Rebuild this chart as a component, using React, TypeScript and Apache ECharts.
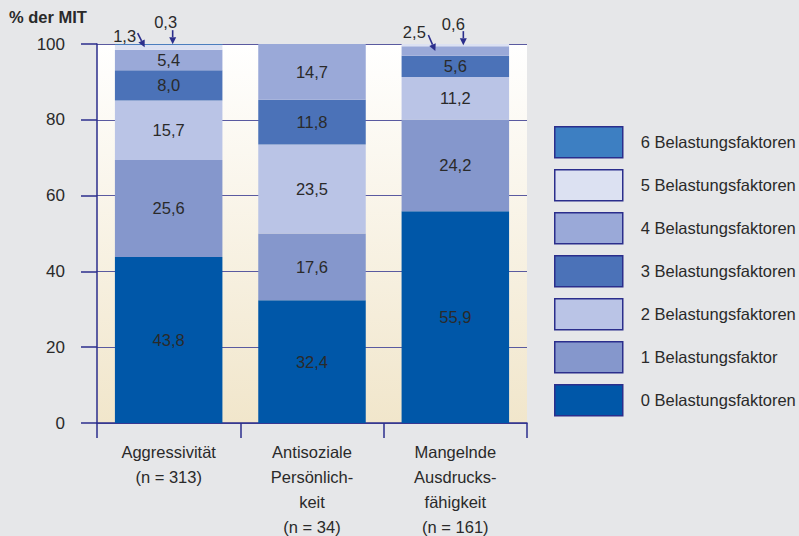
import React, { useEffect, useRef } from "react";
import * as echarts from "echarts";

const categories = [
  "Aggressivität\n(n = 313)",
  "Antisoziale\nPersönlich-\nkeit\n(n = 34)",
  "Mangelnde\nAusdrucks-\nfähigkeit\n(n = 161)",
];

const seriesNames = [
  "0 Belastungsfaktoren",
  "1 Belastungsfaktor",
  "2 Belastungsfaktoren",
  "3 Belastungsfaktoren",
  "4 Belastungsfaktoren",
  "5 Belastungsfaktoren",
  "6 Belastungsfaktoren",
];

const factors0 = [43.8, 32.4, 55.9];
const factors1 = [25.6, 17.6, 24.2];
const factors2 = [15.7, 23.5, 11.2];
const factors3 = [8.0, 11.8, 5.6];
const factors4 = [5.4, 14.7, 2.5];
const factors5 = [1.3, 0, 0.6];
const factors6 = [0.3, 0, 0];

const seriesValues = [factors0, factors1, factors2, factors3, factors4, factors5, factors6];

const seriesColors = ["#0057a8", "#8597cc", "#bac4e6", "#4b72b8", "#9aa9d8", "#dce1f2", "#3d7fc2"];

// thin segments labelled above the bar with an arrow:
// [series, category, tip offset from bar centre (px), arrow dx, arrow dy, label dx, label dy (from tip)]
const calloutSegments: [number, number, number, number, number, number, number][] = [
  [5, 0, -24, -7, -14, -20, -11],
  [6, 0, 4, 0, -14, -7, -22],
  [4, 2, -20, -7, -16, -21, -19],
  [5, 2, 8, 0, -14, -10, -21],
];

const FONT = "'Liberation Sans', Arial, sans-serif";
const INK = "#2b2e8c";
const TEXT = "#2a2a2a";

const fmt = (v: number) => v.toFixed(1).replace(".", ",");

export default function App() {
  const ref = useRef<HTMLDivElement>(null);

  useEffect(() => {
    document.body.style.margin = "0";
    const chart = echarts.init(ref.current!, null, { renderer: "svg" });

    const series = seriesValues.map((vals, i) => ({
      name: seriesNames[i],
      type: "bar" as const,
      stack: "total",
      barWidth: "75%",
      data: vals,
      itemStyle: { color: seriesColors[i] },
      label: {
        show: true,
        position: "inside" as const,
        color: TEXT,
        fontFamily: FONT,
        fontSize: 16.5,
        formatter: (p: any) => (p.value >= 3 ? fmt(p.value) : ""),
      },
    }));

    chart.setOption({
      animation: false,
      backgroundColor: "#e6e7e9",
      title: {
        text: "% der MIT",
        left: 9,
        top: 8,
        padding: 0,
        textStyle: { fontFamily: FONT, fontSize: 16.5, fontWeight: "bold", color: TEXT },
      },
      grid: {
        left: 97,
        right: 272,
        top: 44,
        bottom: 113,
        outerBoundsMode: "none",
        containLabel: false,
        show: true,
        borderWidth: 0,
        backgroundColor: new echarts.graphic.LinearGradient(0, 0, 0, 1, [
          { offset: 0, color: "#ffffff" },
          { offset: 1, color: "#f1e6cb" },
        ]),
      },
      legend: {
        orient: "vertical",
        left: 554,
        top: 126,
        padding: 0,
        itemWidth: 68,
        itemHeight: 31,
        itemGap: 10.5,
        icon: "rect",
        data: seriesNames.slice().reverse(),
        itemStyle: { borderColor: INK, borderWidth: 1.5 },
        textStyle: { fontFamily: FONT, fontSize: 16.5, color: TEXT, padding: [0, 0, 0, 13] },
      },
      xAxis: {
        type: "category",
        data: categories,
        axisLine: { lineStyle: { color: INK, width: 1.5 } },
        axisTick: { show: true, length: 15, lineStyle: { color: INK, width: 1.5 } },
        axisLabel: {
          fontFamily: FONT,
          fontSize: 16.5,
          color: TEXT,
          lineHeight: 25,
          margin: 16,
          interval: 0,
        },
      },
      yAxis: {
        type: "value",
        min: 0,
        max: 100,
        interval: 20,
        axisLine: { show: true, lineStyle: { color: INK, width: 1.5 } },
        axisTick: { show: true, length: 16, lineStyle: { color: INK, width: 1.5 } },
        axisLabel: { fontFamily: FONT, fontSize: 17, color: TEXT, margin: 32 },
        splitLine: { show: true, lineStyle: { color: "#5a5aa0", width: 1.2 } },
      },
      series,
    });

    // arrows pointing at the thin top segments, positioned from the data
    const graphics: any[] = [];
    calloutSegments.forEach(([s, c, dxTip, adx, ady, ldx, ldy]) => {
      let base = 0;
      for (let k = 0; k < s; k++) base += seriesValues[k][c];
      const v = seriesValues[s][c];
      const mid = Math.min(base + v / 2, 100);
      const [cx, ty] = chart.convertToPixel({ gridIndex: 0 }, [c, mid]) as number[];
      const tipX = cx + dxTip;
      const tipY = ty;
      const startX = tipX + adx;
      const startY = tipY + ady;
      const ang = Math.atan2(tipY - startY, tipX - startX);
      const hl = 7;
      const hw = 3.5;
      const bx = tipX - hl * Math.cos(ang);
      const by = tipY - hl * Math.sin(ang);
      const px = -Math.sin(ang);
      const py = Math.cos(ang);
      graphics.push({
        type: "line",
        shape: { x1: startX, y1: startY, x2: bx, y2: by },
        style: { stroke: INK, lineWidth: 1.6 },
        z: 100,
      });
      graphics.push({
        type: "polygon",
        shape: {
          points: [
            [tipX, tipY],
            [bx + px * hw, by + py * hw],
            [bx - px * hw, by - py * hw],
          ],
        },
        style: { fill: INK },
        z: 100,
      });
      graphics.push({
        type: "text",
        x: tipX + ldx,
        y: tipY + ldy,
        style: {
          text: fmt(v),
          fontFamily: FONT,
          fontSize: 16.5,
          fill: TEXT,
          align: "center",
          verticalAlign: "middle",
        },
        z: 100,
      });
    });
    chart.setOption({ graphic: graphics });

    return () => chart.dispose();
  }, []);

  return <div ref={ref} style={{ width: 799, height: 536 }} />;
}
